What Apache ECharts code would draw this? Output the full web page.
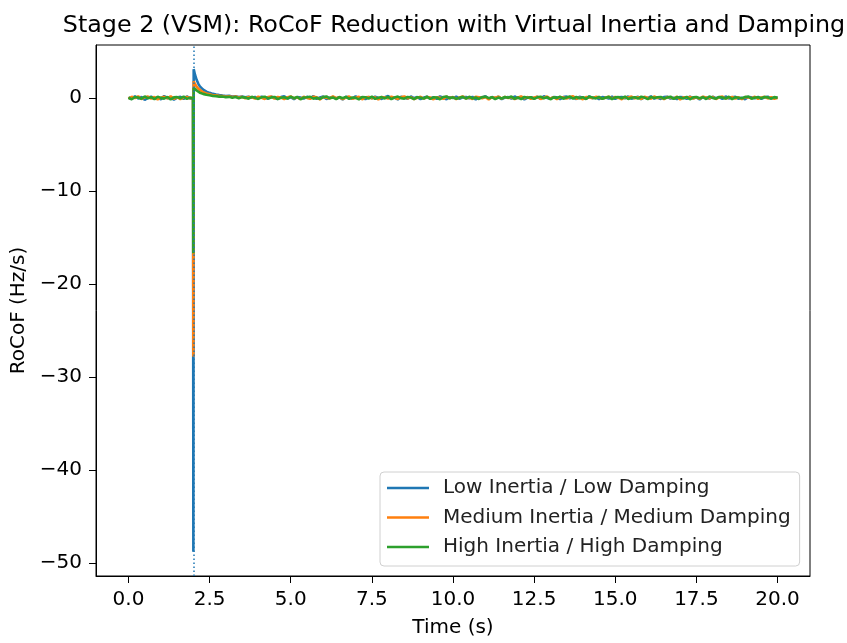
<!DOCTYPE html>
<html>
<head>
<meta charset="utf-8">
<script src="https://cdn.jsdelivr.net/npm/echarts@6/dist/echarts.min.js"></script>
<style>html,body{margin:0;padding:0;background:#fff}#c{width:847px;height:643px}</style>
</head>
<body>
<div id="c"></div>
<script>
var titleText = 'Stage 2 (VSM): RoCoF Reduction with Virtual Inertia and Damping';
var seriesNames = ['Low Inertia / Low Damping', 'Medium Inertia / Medium Damping', 'High Inertia / High Damping'];
var xTicks = [0, 2.5, 5, 7.5, 10, 12.5, 15, 17.5, 20];
var yTicks = [0, -10, -20, -30, -40, -50];
var eventTime = 2;

var time = [
0,0.1,0.2,0.3,0.4,0.5,0.6,0.7,0.8,0.9,1,1.1,1.2,1.3,1.4,1.5,1.6,1.7,1.8,1.9,
1.99,2,2.01,2.05,2.1,2.15,2.2,2.3,2.4,
2.5,2.6,2.7,2.8,2.9,3,3.1,3.2,3.3,3.4,
3.5,3.6,3.7,3.8,3.9,4,4.1,4.2,4.3,4.4,
4.5,4.6,4.7,4.8,4.9,5,5.1,5.2,5.3,5.4,
5.5,5.6,5.7,5.8,5.9,6,6.1,6.2,6.3,6.4,
6.5,6.6,6.7,6.8,6.9,7,7.1,7.2,7.3,7.4,
7.5,7.6,7.7,7.8,7.9,8,8.1,8.2,8.3,8.4,
8.5,8.6,8.7,8.8,8.9,9,9.1,9.2,9.3,9.4,
9.5,9.6,9.7,9.8,9.9,10,10.1,10.2,10.3,10.4,
10.5,10.6,10.7,10.8,10.9,11,11.1,11.2,11.3,11.4,
11.5,11.6,11.7,11.8,11.9,12,12.1,12.2,12.3,12.4,
12.5,12.6,12.7,12.8,12.9,13,13.1,13.2,13.3,13.4,
13.5,13.6,13.7,13.8,13.9,14,14.1,14.2,14.3,14.4,
14.5,14.6,14.7,14.8,14.9,15,15.1,15.2,15.3,15.4,
15.5,15.6,15.7,15.8,15.9,16,16.1,16.2,16.3,16.4,
16.5,16.6,16.7,16.8,16.9,17,17.1,17.2,17.3,17.4,
17.5,17.6,17.7,17.8,17.9,18,18.1,18.2,18.3,18.4,
18.5,18.6,18.7,18.8,18.9,19,19.1,19.2,19.3,19.4,
19.5,19.6,19.7,19.8,19.9,20
];

var rocofLow = [
0.05,-0.12,0.18,-0.06,0.1,-0.2,0.02,0.14,-0.09,0.07,-0.15,0.21,-0.03,0.09,-0.18,0.04,0.12,-0.1,0.16,-0.05,
-0.08,-48.8,3.1,2.5,1.95,1.55,1.25,0.9,0.68,
0.55,0.44,0.37,0.31,0.26,0.22,0.24,0.15,0.19,0.11,
0.16,0.08,0.13,0.02,0.11,-0.04,0.14,0.06,-0.08,0.12,
0.03,-0.11,0.09,0.17,-0.05,0.08,-0.14,0.1,0.04,-0.07,
0.13,-0.02,0.19,-0.1,0.06,0.15,-0.12,0.02,0.11,-0.06,
0.08,-0.16,0.12,0.05,-0.09,0.18,-0.03,0.07,-0.13,0.1,
-0.04,0.14,0.01,-0.11,0.09,0.2,-0.07,0.05,-0.15,0.12,
0.06,-0.08,0.16,-0.02,0.1,-0.12,0.04,0.13,-0.06,0.08,
-0.1,0.17,0.03,-0.14,0.09,-0.01,0.15,-0.08,0.06,0.11,
-0.05,0.12,-0.16,0.07,0.02,0.18,-0.09,0.1,-0.03,0.14,
-0.12,0.05,0.09,-0.07,0.16,-0.02,0.11,-0.15,0.04,0.08,
-0.06,0.13,-0.1,0.19,0.01,-0.08,0.1,0.06,-0.13,0.09,
0.15,-0.04,0.07,-0.11,0.12,0.03,-0.09,0.17,-0.02,0.08,
-0.14,0.1,0.04,-0.06,0.14,-0.1,0.06,0.11,-0.05,0.16,
-0.08,0.03,0.12,-0.13,0.08,-0.01,0.18,-0.07,0.05,-0.11,
0.09,0.14,-0.06,0.02,-0.12,0.11,0.07,-0.09,0.15,-0.03,
0.06,-0.15,0.1,0.04,-0.07,0.13,-0.02,0.09,-0.1,0.16,
-0.05,0.08,0.12,-0.09,0.03,-0.14,0.1,0.06,-0.04,0.11,
-0.1,0.07,0.13,-0.06,0.04,0.02
];

var rocofMedium = [
-0.08,0.13,-0.02,0.17,-0.11,0.06,0.15,-0.07,0.1,-0.16,0.03,0.12,-0.05,0.19,-0.09,0.08,-0.13,0.05,0.11,-0.03,
0.06,-27.8,1.8,1.5,1.22,1.0,0.85,0.62,0.48,
0.4,0.3,0.28,0.21,0.2,0.14,0.18,0.1,0.15,0.05,
0.12,-0.03,0.1,0.07,-0.06,0.13,0.02,-0.1,0.09,0.15,
-0.07,0.11,0.04,-0.13,0.08,0.16,-0.04,0.06,-0.11,0.12,
0.01,-0.09,0.14,0.07,-0.15,0.1,0.03,-0.06,0.18,-0.02,
0.09,-0.12,0.05,0.15,-0.08,0.02,0.12,-0.14,0.07,0.1,
-0.03,0.08,-0.17,0.11,0.04,-0.06,0.14,0.02,-0.1,0.07,
0.16,-0.05,0.09,-0.12,0.03,0.13,-0.08,0.1,0.05,-0.14,
0.08,0.02,-0.09,0.15,-0.03,0.11,-0.13,0.06,0.17,-0.06,
0.04,-0.11,0.13,0.07,-0.02,0.1,-0.16,0.08,0.03,0.14,
-0.07,0.12,-0.01,0.09,-0.13,0.05,0.16,-0.04,0.1,-0.09,
0.06,0.13,-0.1,0.02,0.15,-0.06,0.08,-0.12,0.11,0.04,
-0.05,0.1,0.17,-0.08,0.03,-0.14,0.09,0.06,-0.02,0.12,
0.07,-0.1,0.04,0.14,-0.07,0.11,0.01,-0.13,0.09,0.05,
0.15,-0.04,0.08,-0.11,0.12,0.03,-0.08,0.16,-0.01,0.07,
-0.12,0.1,0.05,-0.06,0.13,-0.15,0.08,0.02,0.11,-0.05,
0.09,-0.09,0.14,0.04,-0.03,0.12,-0.11,0.07,0.16,-0.07,
0.03,0.11,-0.06,0.08,-0.14,0.1,0.05,-0.02,0.13,-0.09,
0.06,0.12,-0.05,0.09,-0.08,0.03
];

var rocofHigh = [
0.02,-0.14,0.1,0.05,-0.09,0.16,-0.04,0.08,-0.12,0.13,0.01,-0.07,0.11,-0.15,0.06,0.09,-0.03,0.14,-0.1,0.04,
-0.05,-16.7,1.1,0.95,0.8,0.68,0.57,0.44,0.35,
0.3,0.22,0.2,0.14,0.16,0.08,0.12,0.03,0.1,-0.02,
0.09,0.04,-0.08,0.12,0.01,-0.1,0.07,0.14,-0.05,0.06,
0.11,-0.12,0.03,0.08,-0.06,0.15,-0.02,0.1,-0.14,0.05,
0.07,0.13,-0.08,0.02,-0.11,0.09,0.16,-0.04,0.06,-0.13,
0.1,-0.03,0.12,-0.09,0.05,0.01,-0.15,0.11,0.07,-0.06,
0.14,-0.1,0.03,0.09,-0.05,0.12,-0.13,0.06,0.15,-0.02,
-0.08,0.11,0.04,-0.12,0.08,0.02,-0.06,0.13,-0.1,0.07,
0.05,-0.14,0.1,0.16,-0.04,0.07,-0.09,0.03,0.12,-0.07,
0.13,-0.05,0.06,-0.11,0.09,0.14,-0.02,0.08,-0.13,0.04,
-0.06,0.1,0.02,0.15,-0.09,0.05,-0.12,0.11,0.03,0.08,
-0.1,0.07,0.13,-0.04,0.09,-0.14,0.06,0.01,0.12,-0.08,
0.04,0.16,-0.07,0.1,-0.02,0.08,-0.11,0.14,0.05,-0.05,
0.11,-0.09,0.03,0.12,-0.13,0.06,0.09,-0.03,0.15,-0.1,
0.02,0.08,-0.06,0.13,0.04,-0.12,0.1,-0.01,0.07,0.11,
-0.07,0.05,0.14,-0.1,0.09,0.03,-0.05,0.12,-0.14,0.06,
0.1,-0.02,0.08,-0.11,0.15,0.01,-0.08,0.11,0.04,-0.06,
0.13,-0.12,0.07,0.02,-0.04,0.1,0.16,-0.09,0.05,0.08,
-0.03,0.11,0.06,-0.07,0.09,0.01
];

var colors = ['#1f77b4', '#ff7f0e', '#2ca02c'];
var FONT = 'DejaVu Sans';

function pairs(vals) { return time.map(function (t, i) { return [t, vals[i]]; }); }
function fmtX(v) { return Number(v).toFixed(1); }
function fmtY(v) { return v < 0 ? '\u2212' + Math.abs(v) : String(v); }

var chart = echarts.init(document.getElementById('c'), null, { renderer: 'canvas' });
var allVals = rocofLow.concat(rocofMedium, rocofHigh);
var dmin = Math.min.apply(null, allVals), dmax = Math.max.apply(null, allVals);
var pad = (dmax - dmin) * 0.05;

var lineSeries = [rocofLow, rocofMedium, rocofHigh].map(function (vals, i) {
  return {
    name: seriesNames[i], type: 'line', data: pairs(vals), showSymbol: false, symbol: 'none',
    sampling: null, lineStyle: { color: colors[i], width: 2.6 }, itemStyle: { color: colors[i] },
    z: 2 + i, animation: false
  };
});
lineSeries.push({
  name: 'event', type: 'line', data: [], z: 10,
  markLine: {
    silent: true, symbol: ['none', 'none'], animation: false,
    label: { show: false },
    lineStyle: { color: '#1f77b4', width: 1.5, type: [1.5, 2.5], opacity: 1 },
    data: [{ xAxis: eventTime }]
  }
});

chart.setOption({
  animation: false,
  backgroundColor: '#ffffff',
  title: {
    text: titleText, left: 449, top: 9, textAlign: 'center',
    textStyle: { fontFamily: FONT, fontSize: 23.8, fontWeight: 'normal', color: '#000' }
  },
  grid: { left: 96, right: 37, top: 45, bottom: 65, show: true, borderColor: '#000', borderWidth: 1, backgroundColor: 'transparent' },
  legend: {
    data: seriesNames, orient: 'vertical', left: 380, top: 472,
    backgroundColor: 'rgba(255,255,255,0.8)', borderColor: '#d0d0d0', borderWidth: 1, borderRadius: 4,
    padding: [5, 9, 8, 7], itemGap: 7.5, itemWidth: 42, itemHeight: 2.5, icon: 'rect',
    textStyle: { fontFamily: FONT, fontSize: 20, color: '#222', lineHeight: 22, padding: [0, 0, 0, 9] }
  },
  xAxis: {
    type: 'value', min: -1, max: 21,
    name: 'Time (s)', nameLocation: 'middle', nameGap: 42,
    nameTextStyle: { fontFamily: FONT, fontSize: 20, color: '#000' },
    axisLine: { show: true, onZero: false, lineStyle: { color: '#000', width: 1 } },
    axisTick: { show: true, inside: false, length: 7, customValues: xTicks, lineStyle: { color: '#000' } },
    axisLabel: { customValues: xTicks, formatter: fmtX, fontFamily: FONT, fontSize: 20, color: '#000', margin: 14 },
    splitLine: { show: false }
  },
  yAxis: {
    type: 'value', min: dmin - pad, max: dmax + pad,
    name: 'RoCoF (Hz/s)', nameLocation: 'middle', nameGap: 66,
    nameTextStyle: { fontFamily: FONT, fontSize: 20, color: '#000' },
    axisLine: { show: true, onZero: false, lineStyle: { color: '#000', width: 1 } },
    axisTick: { show: true, inside: false, length: 7, customValues: yTicks, lineStyle: { color: '#000' } },
    axisLabel: { customValues: yTicks, formatter: fmtY, fontFamily: FONT, fontSize: 20, color: '#000', margin: 14 },
    splitLine: { show: false }
  },
  series: lineSeries
});
</script>
</body>
</html>
